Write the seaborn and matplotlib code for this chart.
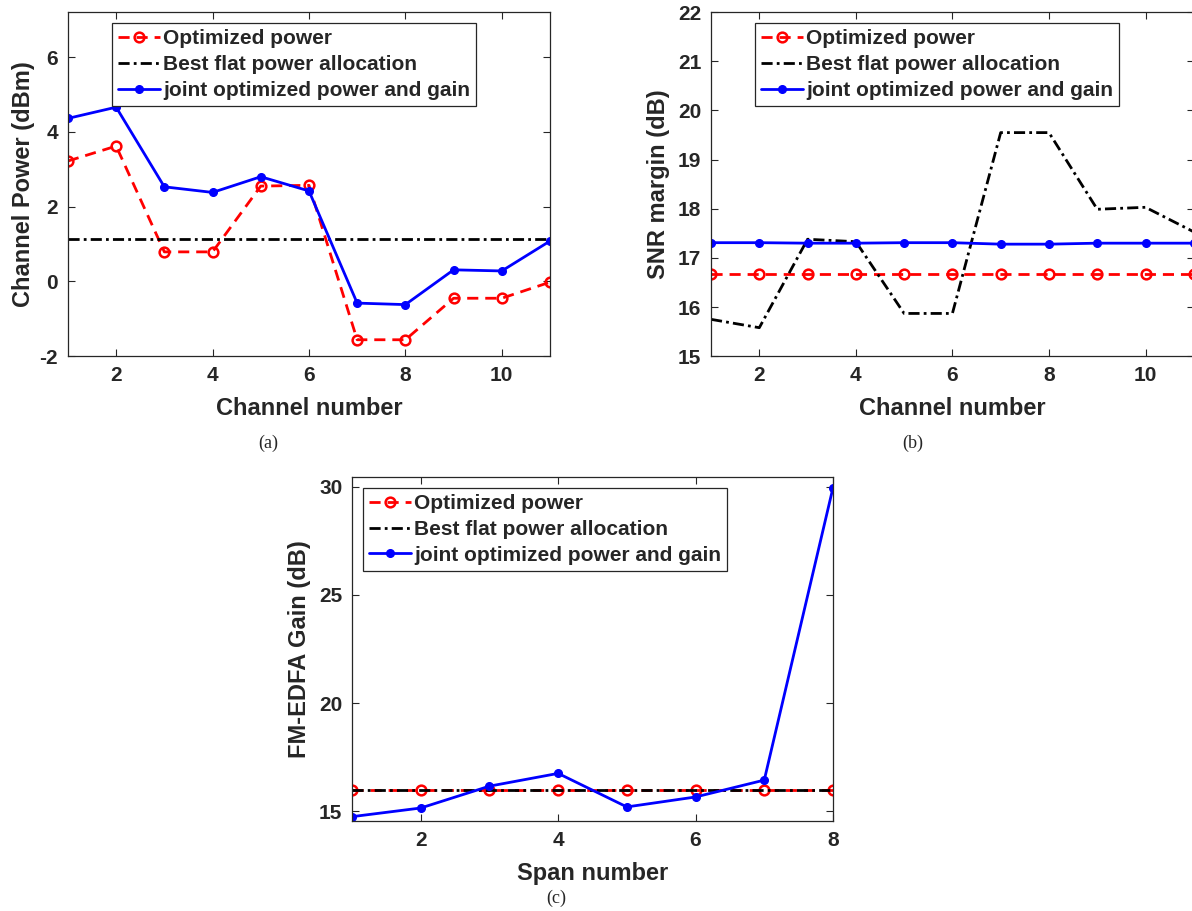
import numpy as np
import pandas as pd
import matplotlib
matplotlib.use("Agg")
import matplotlib.pyplot as plt
import seaborn as sns

# ---- data ----
channels = list(range(1, 12))
spans = list(range(1, 9))

# (a) channel power (dBm)
pw_opt = [3.22, 3.62, 0.79, 0.79, 2.55, 2.57, -1.56, -1.56, -0.45, -0.45, -0.02]
pw_flat = [1.13] * 11
pw_joint = [4.36, 4.66, 2.53, 2.38, 2.80, 2.42, -0.58, -0.62, 0.31, 0.28, 1.08]

# (b) SNR margin (dB)
snr_opt = [16.67] * 11
snr_flat = [15.75, 15.58, 17.38, 17.33, 15.87, 15.87, 19.55, 19.55, 17.99, 18.03, 17.53]
snr_joint = [17.31, 17.31, 17.30, 17.30, 17.31, 17.31, 17.28, 17.28, 17.30, 17.30, 17.30]

# (c) FM-EDFA gain (dB)
gain_opt = [16.0] * 8
gain_flat = [16.0] * 8
gain_joint = [14.75, 15.15, 16.16, 16.75, 15.20, 15.66, 16.44, 29.95]

labels = ["Optimized power", "Best flat power allocation",
          "joint optimized power and gain"]

sns.set_style("ticks")
plt.rcParams["font.family"] = ["Liberation Sans", "DejaVu Sans"]
plt.rcParams["font.weight"] = "bold"
plt.rcParams["axes.unicode_minus"] = False
plt.rcParams["axes.edgecolor"] = "#262626"
plt.rcParams["xtick.color"] = "#262626"
plt.rcParams["ytick.color"] = "#262626"

fig = plt.figure(figsize=(11.92, 9.11), dpi=100)
ax_a = fig.add_axes([0.057, 0.609, 0.4044, 0.3776])
ax_b = fig.add_axes([0.5965, 0.609, 0.405, 0.3776])
ax_c = fig.add_axes([0.2953, 0.0988, 0.4035, 0.3776])


def draw(ax, x, opt, flat, joint, legx):
    df = pd.DataFrame({"x": x, "opt": opt, "flat": flat, "joint": joint})
    sns.lineplot(data=df, x="x", y="opt", ax=ax, color="red", lw=2,
                 dashes=False, linestyle=(0, (4, 2.5)), marker="o",
                 markersize=7, markerfacecolor="none", markeredgecolor="red",
                 markeredgewidth=1.8, label=labels[0])
    sns.lineplot(data=df, x="x", y="flat", ax=ax, color="black", lw=2,
                 linestyle=(0, (4, 1.5, 1, 1.5)), label=labels[1])
    sns.lineplot(data=df, x="x", y="joint", ax=ax, color="blue", lw=2,
                 marker="o", markersize=5.5, markerfacecolor="blue",
                 markeredgecolor="blue", markeredgewidth=1, label=labels[2])
    ax.tick_params(direction="in", top=True, right=True, labelsize=15,
                   length=5, width=0.8, pad=7)
    leg = ax.legend(loc="upper left", bbox_to_anchor=(legx, 0.968),
                    borderaxespad=0, fontsize=15, frameon=True, fancybox=False,
                    edgecolor="#262626", framealpha=1, handlelength=2.0,
                    handletextpad=0.15, labelspacing=0.32, borderpad=0.3)
    leg.get_frame().set_linewidth(0.9)
    for t in leg.get_texts():
        t.set_fontweight("bold")
    for s in ax.spines.values():
        s.set_linewidth(0.9)


def labels_xy(ax, xl, yl, ypad=6):
    ax.set_xlabel(xl, fontsize=17, fontweight="bold", labelpad=9)
    ax.set_ylabel(yl, fontsize=17, fontweight="bold", labelpad=ypad)
    for t in ax.get_xticklabels() + ax.get_yticklabels():
        t.set_fontweight("bold")


draw(ax_a, channels, pw_opt, pw_flat, pw_joint, 0.091)
ax_a.set_xlim(1, 11)
ax_a.set_ylim(-2, 7.2)
ax_a.set_xticks([2, 4, 6, 8, 10])
ax_a.set_yticks([-2, 0, 2, 4, 6])
labels_xy(ax_a, "Channel number", "Channel Power (dBm)", ypad=3)

draw(ax_b, channels, snr_opt, snr_flat, snr_joint, 0.091)
ax_b.set_xlim(1, 11)
ax_b.set_ylim(15, 22)
ax_b.set_xticks([2, 4, 6, 8, 10])
ax_b.set_yticks(range(15, 23))
labels_xy(ax_b, "Channel number", "SNR margin (dB)")

draw(ax_c, spans, gain_opt, gain_flat, gain_joint, 0.023)
ax_c.set_xlim(1, 8)
ax_c.set_ylim(14.55, 30.45)
ax_c.set_xticks([2, 4, 6, 8])
ax_c.set_yticks([15, 20, 25, 30])
labels_xy(ax_c, "Span number", "FM-EDFA Gain (dB)")

cap = dict(fontsize=13, family=["Liberation Serif", "DejaVu Serif"],
           fontweight="normal", ha="center", va="center")
fig.text(268 / 1192, 1 - 443 / 911, "(a)", **cap)
fig.text(913 / 1192, 1 - 443 / 911, "(b)", **cap)
fig.text(556 / 1192, 1 - 898 / 911, "(c)", **cap)

fig.savefig("out.png", dpi=100, facecolor="white")
